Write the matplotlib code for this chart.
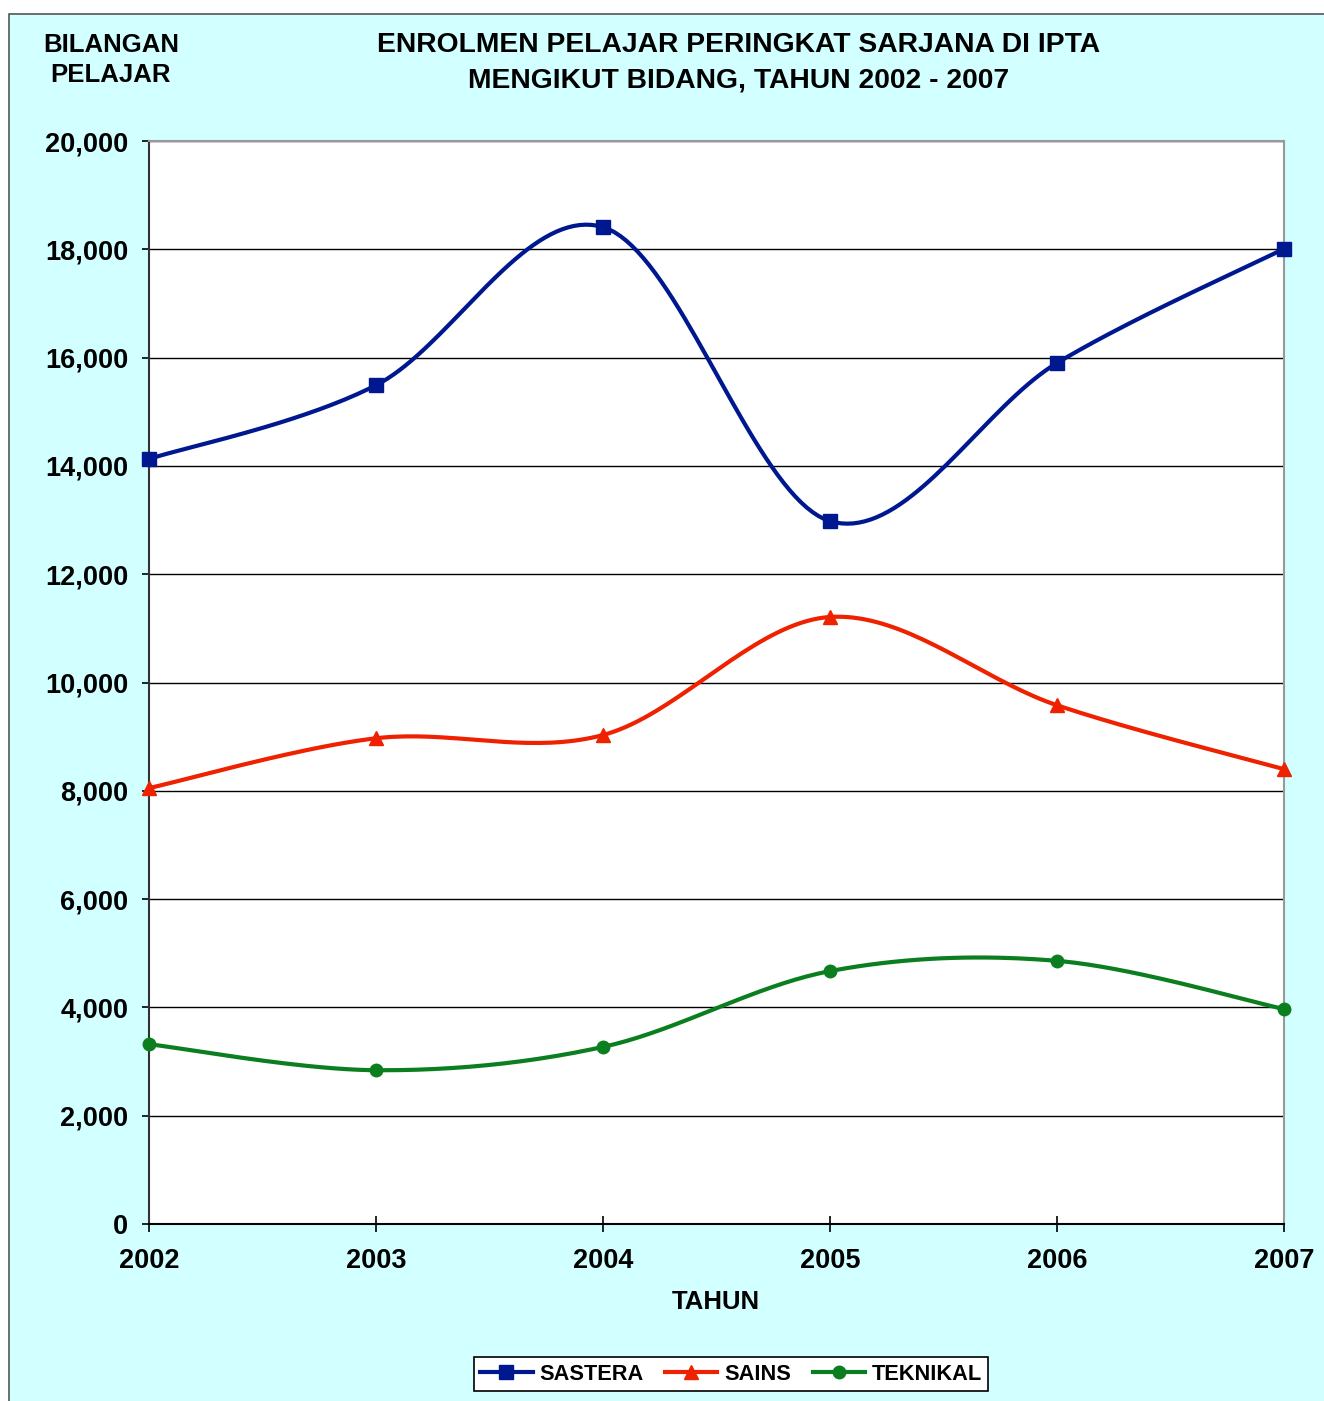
import numpy as np
import matplotlib
matplotlib.use('Agg')
import matplotlib.pyplot as plt
from matplotlib.patches import Rectangle

# Data
tahun = [2002, 2003, 2004, 2005, 2006, 2007]
sastera = [14128, 15490, 18410, 12980, 15900, 18010]
sains = [8050, 8970, 9030, 11210, 9580, 8400]
teknikal = [3320, 2840, 3270, 4670, 4860, 3970]

nama_siri = ['SASTERA', 'SAINS', 'TEKNIKAL']
warna_siri = ['#00188F', '#EE2200', '#0B7F1F']
penanda_siri = ['s', '^', 'o']

y_ticks = list(range(0, 20001, 2000))
y_labels = [f'{v:,}' for v in y_ticks]

FONT = 'Liberation Sans'
BG = '#D2FFFF'


def lengkung_licin(x, y, n=40):
    """Courbe lissée façon Excel (Bezier avec points de contrôle Catmull-Rom)."""
    x = np.asarray(x, dtype=float)
    y = np.asarray(y, dtype=float)
    pts = np.column_stack([x, y])
    # normaliser pour que le lissage se fasse dans l'espace du graphique
    sx = x.max() - x.min()
    sy = 20000.0
    p = pts / [sx, sy]
    out = []
    t = np.linspace(0, 1, n)
    for i in range(len(p) - 1):
        p0 = p[i]
        p3 = p[i + 1]
        pm = p[i - 1] if i > 0 else p[i]
        pp = p[i + 2] if i + 2 < len(p) else p[i + 1]
        c1 = p0 + (p3 - pm) / 6.0
        c2 = p3 - (pp - p0) / 6.0
        seg = ((1 - t) ** 3)[:, None] * p0 + (3 * (1 - t) ** 2 * t)[:, None] * c1 \
            + (3 * (1 - t) * t ** 2)[:, None] * c2 + (t ** 3)[:, None] * p3
        out.append(seg if i == 0 else seg[1:])
    out = np.vstack(out) * [sx, sy]
    return out[:, 0], out[:, 1]


fig = plt.figure(figsize=(13.24, 14.01), dpi=100)
fig.patch.set_facecolor('white')

# Cadre de fond
fig.patches.append(Rectangle((9 / 1324, -0.01), 1.0, 1 - 14 / 1401 + 0.01,
                             transform=fig.transFigure, facecolor=BG,
                             edgecolor='#555555', linewidth=1.2, zorder=-10))

ax = fig.add_axes([149 / 1324, 1 - 1224 / 1401, 1135 / 1324, 1083 / 1401])
ax.set_facecolor('white')

for data, nama, warna, penanda in zip([sastera, sains, teknikal], nama_siri,
                                      warna_siri, penanda_siri):
    xs, ys = lengkung_licin(tahun, data)
    ms = 10 if penanda != 'o' else 9
    ax.plot(xs, ys, color=warna, linewidth=3, zorder=3, solid_capstyle='round')
    ax.plot(tahun, data, linestyle='none', marker=penanda, color=warna,
            markersize=ms, zorder=4, clip_on=False)
    # entrée de légende
    ax.plot([], [], color=warna, linewidth=3, marker=penanda,
            markersize=ms, label=nama)

# Axes
ax.set_xlim(2002, 2007)
ax.set_ylim(0, 20000)
ax.set_xticks(tahun)
ax.set_xticklabels([str(t) for t in tahun])
ax.set_yticks(y_ticks)
ax.set_yticklabels(y_labels)
ax.yaxis.grid(True, color='black', linewidth=1)
ax.set_axisbelow(True)

ax.spines['top'].set_color('#999999')
ax.spines['right'].set_color('#999999')
ax.spines['left'].set_color('#333333')
ax.spines['bottom'].set_color('black')
for s in ax.spines.values():
    s.set_linewidth(1.5)

ax.tick_params(axis='y', direction='out', length=5, width=1.2, pad=10)
ax.tick_params(axis='x', direction='inout', length=11, width=1.2, pad=12)
for lbl in ax.get_xticklabels() + ax.get_yticklabels():
    lbl.set_fontfamily(FONT)
    lbl.set_fontweight('bold')
    lbl.set_fontsize(19.5)

# Titres
fig.text(739 / 1324, 1 - 63 / 1401,
         'ENROLMEN PELAJAR PERINGKAT SARJANA DI IPTA\nMENGIKUT BIDANG, TAHUN 2002 - 2007',
         ha='center', va='center', fontsize=20.3, fontweight='bold', family=FONT,
         linespacing=1.45)
fig.text(111 / 1324, 1 - 60 / 1401, 'BILANGAN\nPELAJAR', ha='center', va='center',
         fontsize=18.5, fontweight='bold', family=FONT, linespacing=1.35)
fig.text(716 / 1324, 1 - 1302 / 1401, 'TAHUN', ha='center', va='center',
         fontsize=18.5, fontweight='bold', family=FONT)

# Légende
leg = fig.legend(loc='center', bbox_to_anchor=(731 / 1324, 1 - 1374 / 1401), ncol=3,
                 frameon=True, fancybox=False, edgecolor='black', framealpha=1,
                 prop={'family': FONT, 'weight': 'bold', 'size': 15.7},
                 handlelength=2.4, handletextpad=0.3, columnspacing=1.0,
                 borderpad=0.3)
leg.get_frame().set_linewidth(1.2)

fig.savefig('out.png', dpi=100, facecolor=fig.get_facecolor())
